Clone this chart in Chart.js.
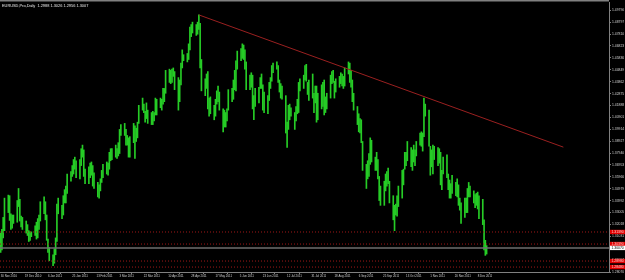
<!DOCTYPE html>
<html><head><meta charset="utf-8">
<script src="https://cdn.jsdelivr.net/npm/chart.js@4/dist/chart.umd.min.js"></script>
<style>html,body{margin:0;padding:0;background:#000;}canvas{display:block;}</style>
</head><body>
<canvas id="c" width="625" height="280"></canvas>
<script>
// ---------- data ----------
const chartTitle = "EURUSD,Pro,Daily  1.2988 1.3026 1.2956 1.3007";
// trading days, Mon-Fri, first bar Tue 30 Nov 2010 (day 0)
const highs = [
 1.3130,1.3160,1.3260,1.3420,
 1.3445,1.3440,1.3290,1.3280,1.3280,
 1.3400,1.3500,1.3410,1.3270,1.3260,
 1.3230,1.3200,1.3150,1.3140,1.3140,
 1.3190,1.3220,1.3250,1.3280,1.3390,
 1.3430,1.3390,1.3280,1.3080,1.3010,
 1.2950,1.3000,1.3090,1.3370,1.3420,
 1.3360,1.3440,1.3490,1.3520,1.3620,
 1.3640,1.3690,1.3740,1.3760,1.3730,
 1.3740,1.3830,1.3860,1.3820,1.3660,
 1.3680,1.3710,1.3720,1.3690,1.3630,
 1.3550,1.3530,1.3580,1.3650,1.3700,
 1.3720,1.3710,1.3800,1.3830,1.3830,
 1.3860,1.3830,1.3880,1.3990,1.4030,
 1.4040,1.3990,1.3940,1.3920,1.3930,
 1.4040,1.4020,1.4000,1.4050,1.4190,
 1.4250,1.4200,1.4140,1.4210,1.4150,
 1.4130,1.4140,1.4130,1.4250,1.4240,
 1.4250,1.4240,1.4330,1.4330,1.4480,
 1.4490,1.4480,1.4490,1.4500,1.4470,
 1.4420,1.4400,1.4540,1.4650,1.4610,
 1.4620,1.4700,1.4840,1.4860,1.4880,
 1.4860,1.4880,1.4940,1.4870,1.4570,
 1.4410,1.4450,1.4470,1.4250,1.4260,
 1.4190,1.4240,1.4310,1.4350,1.4300,
 1.4160,1.4150,1.4130,1.4160,1.4320,
 1.4330,1.4400,1.4480,1.4560,1.4640,
 1.4660,1.4700,1.4690,1.4650,1.4550,
 1.4440,1.4460,1.4440,1.4270,1.4330,
 1.4340,1.4420,1.4450,1.4360,1.4300,
 1.4270,1.4380,1.4420,1.4520,1.4540,
 1.4550,1.4520,1.4400,1.4370,1.4350,
 1.4270,1.4050,1.4190,1.4200,1.4170,
 1.4130,1.4180,1.4240,1.4380,1.4410,
 1.4440,1.4520,1.4530,1.4380,1.4400,
 1.4450,1.4290,1.4350,1.4350,1.4290,
 1.4360,1.4380,1.4400,1.4260,1.4290,
 1.4440,1.4470,1.4480,1.4390,1.4410,
 1.4430,1.4460,1.4450,1.4430,1.4500,
 1.4550,1.4540,1.4480,1.4400,1.4290,
 1.4180,1.4120,1.4080,1.4070,1.3890,
 1.3700,1.3730,1.3790,1.3920,1.3900,
 1.3760,1.3800,1.3740,1.3600,1.3520,
 1.3560,1.3620,1.3640,1.3670,1.3560,
 1.3440,1.3360,1.3370,1.3440,1.3520,
 1.3650,1.3660,1.3800,1.3800,1.3890,
 1.3840,1.3820,1.3860,1.3820,1.3890,
 1.3960,1.3970,1.3960,1.4250,1.4200,
 1.4150,1.3850,1.3820,1.3860,1.3850,
 1.3840,1.3830,1.3800,1.3650,1.3760,
 1.3780,1.3620,1.3570,1.3540,1.3610,
 1.3550,1.3580,1.3530,1.3420,1.3380,
 1.3420,1.3420,1.3500,1.3550,1.3520,
 1.3480,1.3450,1.3460,1.3470,1.3440,
 1.3410,1.3240,1.3070,1.3026
];
const lows = [
 1.2969,1.2990,1.3090,1.3150,
 1.3300,1.3235,1.3160,1.3170,1.3210,
 1.3220,1.3350,1.3230,1.3180,1.3160,
 1.3130,1.3110,1.3060,1.3070,1.3100,
 1.3110,1.3080,1.3090,1.3160,1.3230,
 1.3290,1.3240,1.3070,1.2970,1.2900,
 1.2860,1.2880,1.2950,1.3060,1.3290,
 1.3250,1.3280,1.3380,1.3380,1.3460,
 1.3560,1.3600,1.3620,1.3660,1.3590,
 1.3580,1.3690,1.3760,1.3600,1.3540,
 1.3540,1.3590,1.3610,1.3520,1.3500,
 1.3430,1.3420,1.3480,1.3550,1.3590,
 1.3620,1.3610,1.3660,1.3730,1.3740,
 1.3760,1.3750,1.3770,1.3790,1.3940,
 1.3940,1.3860,1.3860,1.3760,1.3760,
 1.3880,1.3750,1.3890,1.3920,1.4040,
 1.4150,1.4130,1.4050,1.4080,1.4040,
 1.4030,1.4030,1.4060,1.4110,1.4110,
 1.4170,1.4150,1.4200,1.4220,1.4290,
 1.4380,1.4370,1.4380,1.4430,1.4320,
 1.4150,1.4220,1.4360,1.4500,1.4560,
 1.4550,1.4570,1.4650,1.4760,1.4790,
 1.4770,1.4780,1.4820,1.4500,1.4310,
 1.4270,1.4330,1.4160,1.4100,1.4120,
 1.4070,1.4100,1.4200,1.4220,1.4150,
 1.3970,1.4010,1.4010,1.4060,1.4150,
 1.4220,1.4240,1.4320,1.4310,1.4490,
 1.4560,1.4580,1.4570,1.4490,1.4320,
 1.4320,1.4340,1.4160,1.4070,1.4180,
 1.4210,1.4330,1.4330,1.4150,1.4130,
 1.4120,1.4230,1.4330,1.4390,1.4460,
 1.4490,1.4380,1.4300,1.4250,1.4240,
 1.3960,1.3840,1.3990,1.4070,1.4100,
 1.3990,1.4060,1.4120,1.4130,1.4310,
 1.4330,1.4400,1.4390,1.4280,1.4230,
 1.4250,1.4130,1.4210,1.4050,1.4070,
 1.4160,1.4180,1.4110,1.4130,1.4160,
 1.4250,1.4370,1.4380,1.4250,1.4300,
 1.4340,1.4370,1.4350,1.4330,1.4350,
 1.4450,1.4380,1.4340,1.4220,1.4150,
 1.4030,1.3970,1.3960,1.3880,1.3650,
 1.3500,1.3580,1.3600,1.3700,1.3720,
 1.3650,1.3650,1.3580,1.3400,1.3360,
 1.3360,1.3480,1.3520,1.3540,1.3380,
 1.3240,1.3150,1.3280,1.3270,1.3350,
 1.3420,1.3530,1.3660,1.3690,1.3730,
 1.3680,1.3650,1.3720,1.3690,1.3770,
 1.3860,1.3850,1.3810,1.3930,1.4100,
 1.3850,1.3610,1.3680,1.3620,1.3740,
 1.3690,1.3710,1.3530,1.3490,1.3620,
 1.3590,1.3490,1.3420,1.3420,1.3460,
 1.3440,1.3430,1.3360,1.3320,1.3210,
 1.3260,1.3300,1.3300,1.3430,1.3430,
 1.3380,1.3340,1.3360,1.3330,1.3250,
 1.3200,1.2990,1.2945,1.2956
];
// x tick labels (day offsets from 30 Nov 2010)
const xTickDays = [0,19,37,56,75,93,112,131,149,168,187,205,224,243,261,280,299,317,336,355,373];
const xTickLabels = ["30 Nov 2010","19 Dec 2010","6 Jan 2011","25 Jan 2011","13 Feb 2011","3 Mar 2011","22 Mar 2011","10 Apr 2011","28 Apr 2011","17 May 2011","5 Jun 2011","23 Jun 2011","12 Jul 2011","31 Jul 2011","18 Aug 2011","6 Sep 2011","25 Sep 2011","13 Oct 2011","1 Nov 2011","20 Nov 2011","8 Dec 2011"];
const yTickLabels = ["1.28070","1.29057","1.30044","1.31031","1.32018","1.33005","1.33992","1.34979","1.35966","1.36953","1.37940","1.38927","1.39914","1.40901","1.41888","1.42875","1.43862","1.44849","1.45836","1.46823","1.47810","1.48797","1.49790"];
const levelPrices = [1.3139, 1.3039, 1.2898, 1.2848];
const levelLabels = ["1.31390","1.30390","1.28980","1.28480"];
const bidPrice = 1.3007;
const bidLabel = "1.30070";
const trendDays = [155, 440];
const trendPrices = [1.4940, 1.3843];

// ---------- build ----------
const days = [];
for (let d = 0; days.length < highs.length; d++) { const dow = (2 + d) % 7; if (dow >= 1 && dow <= 5) days.push(d); }
const bars = days.map((d, i) => ({x: d, y: [lows[i], highs[i]]}));
const X_MIN = -0.5, X_MAX = 475.7;
const FAMILY = 'Liberation Sans';
const XFONT = {size: 2.9, family: FAMILY};
const YFONT = {size: 3.4, family: FAMILY};
const TFONT = 3.9;

const lineDs = (pts, color, dash, width) => ({type: 'line', data: pts, borderColor: color, borderWidth: width, borderDash: dash, pointRadius: 0, fill: false, tension: 0});
const datasets = [];
levelPrices.forEach(p => datasets.push(lineDs([{x: X_MIN, y: p}, {x: X_MAX, y: p}], '#a01818', [1, 2], 1)));
datasets.push(lineDs([{x: X_MIN, y: bidPrice}, {x: X_MAX, y: bidPrice}], '#6e6e6e', [], 1.5));
datasets.push(lineDs(trendDays.map((d, i) => ({x: d, y: trendPrices[i]})), '#9a2020', [], 1));
datasets.push({type: 'bar', data: bars, backgroundColor: '#26cc26', barThickness: 1, grouped: false});

const overlay = {
  id: 'overlay',
  afterDraw(chart) {
    const ctx = chart.ctx, ys = chart.scales.y, ca = chart.chartArea;
    ctx.save();
    ctx.fillStyle = '#808080';
    ctx.fillRect(0, 0, ca.right, 1.5);
    ctx.textBaseline = 'middle';
    ctx.font = TFONT + 'px ' + FAMILY;
    ctx.fillStyle = '#e8e8e8';
    ctx.fillText(chartTitle, 2, 6);
    ctx.font = YFONT.size + 'px ' + FAMILY;
    levelPrices.forEach((p, i) => {
      const py = ys.getPixelForValue(p);
      ctx.fillStyle = '#e00000';
      ctx.fillRect(ca.right + 1, py - 2.2, 15, 4.4);
      ctx.fillStyle = '#ffd0d0';
      ctx.fillText(levelLabels[i], ca.right + 2.5, py);
    });
    const by = ys.getPixelForValue(bidPrice);
    ctx.fillStyle = '#ffffff';
    ctx.fillRect(ca.right + 1, by - 2.2, 15, 4.4);
    ctx.fillStyle = '#000';
    ctx.fillText(bidLabel, ca.right + 2.5, by);
    ctx.restore();
  }
};

new Chart(document.getElementById('c'), {
  type: 'bar',
  data: {datasets},
  options: {
    responsive: false, animation: false, devicePixelRatio: 1,
    layout: {padding: {top: 2, left: 0, right: 0, bottom: 0}},
    plugins: {legend: {display: false}, tooltip: {enabled: false}},
    scales: {
      x: {
        type: 'linear', min: X_MIN, max: X_MAX, position: 'bottom', offset: false,
        grid: {display: true, drawOnChartArea: false, drawTicks: true, tickLength: 2, color: '#808080'},
        border: {display: true, color: '#808080'},
        afterBuildTicks: s => { s.ticks = xTickDays.map(v => ({value: v})); },
        ticks: {align: 'start', padding: 0.5, autoSkip: false, maxRotation: 0, minRotation: 0, color: '#d0d0d0', font: XFONT,
          callback: (v, i) => xTickLabels[i]},
        afterFit: s => { s.height = 8; s.paddingLeft = 0; s.paddingRight = 0; }
      },
      y: {
        position: 'right', min: 1.2807, max: 1.50472,
        grid: {display: true, drawOnChartArea: false, drawTicks: true, tickLength: 2, color: '#808080'},
        border: {display: true, color: '#808080'},
        afterBuildTicks: s => { s.ticks = yTickLabels.map(t => ({value: parseFloat(t)})); },
        ticks: {padding: 1, autoSkip: false, color: '#d0d0d0', font: YFONT, callback: (v, i) => yTickLabels[i]},
        afterFit: s => { s.width = 16; s.paddingTop = 0; s.paddingBottom = 0; }
      }
    }
  },
  plugins: [overlay]
});
</script>
</body></html>
